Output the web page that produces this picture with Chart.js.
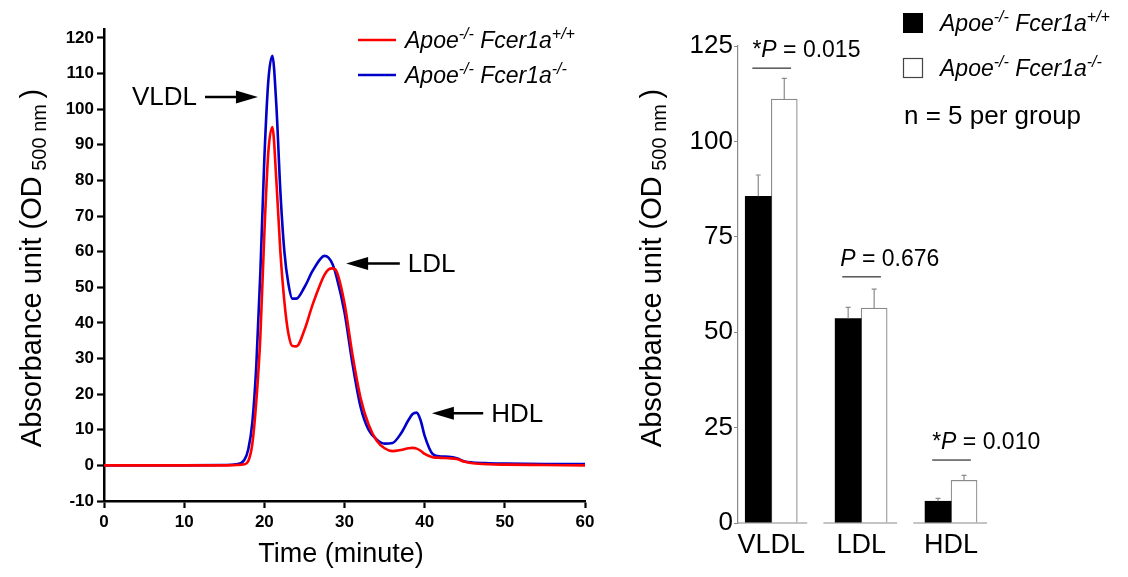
<!DOCTYPE html>
<html>
<head>
<meta charset="utf-8">
<script src="https://cdn.jsdelivr.net/npm/chart.js@4/dist/chart.umd.min.js"></script>
<style>
  html, body { margin: 0; padding: 0; background: #fff; }
  #wrap { position: relative; width: 1128px; height: 577px; }
  #lineChart { position: absolute; left: 0; top: 0; }
  #barChart { position: absolute; left: 600px; top: 0; }
</style>
</head>
<body>
<div id="wrap">
  <canvas id="lineChart" width="600" height="577"></canvas>
  <canvas id="barChart" width="528" height="577"></canvas>
</div>
<script>
// ---------------- DATA: FPLC PROFILE ----------------
const timeMin = [0, 5, 10, 15, 16.5, 17.5, 18, 18.5, 19, 19.5, 20, 20.5, 21, 21.5, 22, 22.5, 23, 23.5, 24, 25, 26, 27, 27.5, 28, 28.5, 29, 30, 31, 32, 33, 34, 35, 36, 37, 38, 38.5, 39, 39.5, 40, 41, 42, 43, 44, 45, 46, 48, 50, 55, 60];
const wildType = [0, 0, 0, 0, 0.1, 0.3, 1.2, 6, 18, 36, 65, 88, 95, 80, 60, 46, 37, 33.5, 33.4, 38, 45, 51, 53.5, 55, 55.3, 54.5, 45.5, 31, 19, 11.5, 7, 4.8, 4, 4.3, 4.8, 4.9, 4.7, 4.1, 3.2, 2.3, 2.1, 2, 1.8, 1, 0.6, 0.3, 0.2, 0.1, 0];
const knockOut = [0, 0, 0, 0.1, 0.3, 1.5, 4.5, 12, 28, 54, 86, 108, 115, 101, 77, 60, 51, 46.8, 46.8, 50, 54.5, 58, 58.8, 58.3, 56.5, 53, 43, 28.5, 16.5, 10, 7.3, 6.1, 6.3, 8.8, 12.8, 14.4, 14.8, 12.6, 8.3, 3.2, 2.5, 2.4, 2, 1.1, 0.8, 0.6, 0.5, 0.4, 0.4];
const yTicksLeft = [-10, 0, 10, 20, 30, 40, 50, 60, 70, 80, 90, 100, 110, 120];

// peak labels: [text, arrow tail time, arrow tip time, level, side]
const peakLabels = [
    ["VLDL", 12.6, 19.2, 103.4, "left"],
    ["LDL", 36.9, 30.2, 56.7, "right"],
    ["HDL", 47.3, 40.9, 14.6, "right"]
];

// ---------------- DATA: BAR SUMMARY ----------------
const lipoClasses = ["VLDL", "LDL", "HDL"];
const wildTypeMean = [85.6, 53.6, 5.7];
const wildTypeErr = [5.6, 2.9, 0.75];
const knockOutMean = [111.1, 56.3, 11.2];
const knockOutErr = [5.4, 5.0, 1.3];
const pLabels = ["*P = 0.015", "P = 0.676", "*P = 0.010"];
const pLevels = [119.2, 64.5, 16.5];
const yTicksRight = [0, 25, 50, 75, 100, 125];

const FONT = "'Liberation Sans', Arial, sans-serif";
const RED = "#ff0000";
const BLUE = "#0000c8";

// ---------------- TEXT HELPERS ----------------
// parts: [text, size, italic, dy]
function richWidth(ctx, parts) {
    let w = 0;
    parts.forEach(p => {
        ctx.font = (p[2] ? "italic " : "") + p[1] + "px " + FONT;
        w += ctx.measureText(p[0]).width;
    });
    return w;
}

function drawRich(ctx, x, y, parts) {
    let cx = x;
    ctx.textBaseline = "alphabetic";
    ctx.textAlign = "left";
    parts.forEach(p => {
        ctx.font = (p[2] ? "italic " : "") + p[1] + "px " + FONT;
        ctx.fillText(p[0], cx, y + (p[3] || 0));
        cx += ctx.measureText(p[0]).width;
    });
}

function genotype(sup) {
    return [["Apoe", 23, true, 0], ["-/-", 16, true, -9], [" Fcer1a", 23, true, 0], [sup, 16, true, -9]];
}

function yTitleParts() {
    return [["Absorbance unit (OD", 29, false, 0], [" 500 nm", 20, false, 5], [" ", 20, false, 0], [")", 29, false, 0]];
}

function drawYTitle(ctx, cx, cy) {
    const parts = yTitleParts();
    const w = richWidth(ctx, parts);
    ctx.save();
    ctx.translate(cx, cy);
    ctx.rotate(-Math.PI / 2);
    ctx.fillStyle = "#000";
    drawRich(ctx, -w / 2, 10, parts);
    ctx.restore();
}

function drawArrow(ctx, x1, x2, y) {
    const dir = x2 > x1 ? 1 : -1;
    ctx.save();
    ctx.strokeStyle = "#000";
    ctx.fillStyle = "#000";
    ctx.lineWidth = 2.5;
    ctx.beginPath();
    ctx.moveTo(x1, y);
    ctx.lineTo(x2 - dir * 18, y);
    ctx.stroke();
    ctx.beginPath();
    ctx.moveTo(x2, y);
    ctx.lineTo(x2 - dir * 22, y - 6.5);
    ctx.lineTo(x2 - dir * 22, y + 6.5);
    ctx.closePath();
    ctx.fill();
    ctx.restore();
}

// -------------------- LEFT: LINE CHART --------------------
const lineDecor = {
    id: "lineDecor",
    afterDraw(chart) {
        const ctx = chart.ctx;
        const xs = chart.scales.x;
        const ys = chart.scales.y;

        // peak arrows
        peakLabels.forEach(([label, tail, tip, level, side]) => {
            const px1 = xs.getPixelForValue(tail);
            const px2 = xs.getPixelForValue(tip);
            const py = ys.getPixelForValue(level);
            drawArrow(ctx, px1, px2, py);
            ctx.fillStyle = "#000";
            ctx.font = "26px " + FONT;
            ctx.textBaseline = "middle";
            ctx.textAlign = side === "left" ? "right" : "left";
            ctx.fillText(label, side === "left" ? px1 - 8 : px1 + 8, py + 1);
        });

        // legend
        const rows = [[RED, "+/+", 40], [BLUE, "-/-", 75]];
        rows.forEach(([color, sup, y]) => {
            ctx.strokeStyle = color;
            ctx.lineWidth = 2.5;
            ctx.beginPath();
            ctx.moveTo(358, y);
            ctx.lineTo(396, y);
            ctx.stroke();
            ctx.fillStyle = "#000";
            drawRich(ctx, 405, y + 8, genotype(sup));
        });

        // axis titles
        ctx.fillStyle = "#000";
        ctx.font = "27px " + FONT;
        ctx.textAlign = "center";
        ctx.textBaseline = "alphabetic";
        ctx.fillText("Time (minute)", 341, 562);
        drawYTitle(ctx, 31, 268);
    }
};

new Chart("lineChart", {
    type: "line",
    data: {
        datasets: [
            {
                label: "Apoe-/- Fcer1a+/+",
                data: timeMin.map((t, i) => ({ x: t, y: wildType[i] })),
                borderColor: RED,
                borderWidth: 2.6,
                pointRadius: 0,
                cubicInterpolationMode: "monotone"
            },
            {
                label: "Apoe-/- Fcer1a-/-",
                data: timeMin.map((t, i) => ({ x: t, y: knockOut[i] })),
                borderColor: BLUE,
                borderWidth: 2.6,
                pointRadius: 0,
                cubicInterpolationMode: "monotone"
            }
        ]
    },
    options: {
        responsive: false,
        animation: false,
        layout: { padding: { top: 29, right: 15, left: 0, bottom: 0 } },
        plugins: { legend: { display: false }, tooltip: { enabled: false } },
        scales: {
            x: {
                type: "linear",
                min: 0,
                max: 60,
                afterFit: s => { s.height = 76; },
                ticks: {
                    stepSize: 10,
                    color: "#000",
                    padding: 4,
                    font: { family: FONT, size: 17, weight: "bold" }
                },
                grid: { drawOnChartArea: false, tickLength: 7, tickWidth: 2.2, color: "#000" },
                border: { display: true, color: "#000", width: 2.5 }
            },
            y: {
                type: "linear",
                min: -10,
                max: 122.5,
                afterFit: s => { s.width = 104; },
                afterBuildTicks: s => { s.ticks = yTicksLeft.map(v => ({ value: v })); },
                ticks: {
                    color: "#000",
                    padding: 3,
                    font: { family: FONT, size: 17, weight: "bold" }
                },
                grid: { drawOnChartArea: false, tickLength: 7, tickWidth: 2.2, color: "#000" },
                border: { display: true, color: "#000", width: 2.5 }
            }
        }
    },
    plugins: [lineDecor]
});

// -------------------- RIGHT: BAR CHART --------------------
const barDecor = {
    id: "barDecor",
    afterDatasetsDraw(chart) {
        const ctx = chart.ctx;
        const xs = chart.scales.x;
        const ys = chart.scales.y;
        const errs = [wildTypeErr, knockOutErr];
        const means = [wildTypeMean, knockOutMean];

        // error bars
        chart.data.datasets.forEach((ds, di) => {
            const meta = chart.getDatasetMeta(di);
            meta.data.forEach((bar, i) => {
                const top = ys.getPixelForValue(means[di][i] + errs[di][i]);
                ctx.save();
                ctx.strokeStyle = "#8a8a8a";
                ctx.lineWidth = 1.2;
                ctx.beginPath();
                ctx.moveTo(bar.x, bar.y);
                ctx.lineTo(bar.x, top);
                ctx.moveTo(bar.x - 2.5, top);
                ctx.lineTo(bar.x + 2.5, top);
                ctx.stroke();
                ctx.restore();
            });
        });

        // broken baseline under each group
        const base = ys.getPixelForValue(0);
        ctx.save();
        ctx.strokeStyle = "#8a8a8a";
        ctx.lineWidth = 1.2;
        lipoClasses.forEach((c, i) => {
            const a = Math.max(xs.getPixelForValue(i - 0.42), chart.chartArea.left);
            const b = xs.getPixelForValue(i + 0.40);
            ctx.beginPath();
            ctx.moveTo(a, base);
            ctx.lineTo(b, base);
            ctx.stroke();
        });
        ctx.restore();

        // P values
        pLabels.forEach((txt, i) => {
            const y = ys.getPixelForValue(pLevels[i]);
            const x1 = xs.getPixelForValue(i - 0.21);
            const x2 = xs.getPixelForValue(i + 0.22);
            ctx.save();
            ctx.strokeStyle = "#000";
            ctx.lineWidth = 1;
            ctx.beginPath();
            ctx.moveTo(x1, y);
            ctx.lineTo(x2, y);
            ctx.stroke();
            ctx.fillStyle = "#000";
            const star = txt.startsWith("*");
            const rest = txt.replace(/^\*?P/, "");
            const parts = [];
            if (star) parts.push(["*", 23, false, 0]);
            parts.push(["P", 23, true, 0]);
            parts.push([rest, 23, false, 0]);
            drawRich(ctx, x1 - (star ? 0 : 2), y - 11, parts);
            ctx.restore();
        });

        // legend
        ctx.save();
        ctx.fillStyle = "#000";
        ctx.fillRect(303, 13, 20, 20);
        ctx.strokeStyle = "#444";
        ctx.lineWidth = 1.2;
        ctx.strokeRect(303.5, 58.5, 19, 19);
        drawRich(ctx, 340, 31, genotype("+/+"));
        drawRich(ctx, 340, 76, genotype("-/-"));
        ctx.font = "26px " + FONT;
        ctx.fillText("n = 5 per group", 304, 124);
        ctx.restore();

        drawYTitle(ctx, 51, 268);
    }
};

new Chart("barChart", {
    type: "bar",
    data: {
        datasets: [
            {
                label: "Apoe-/- Fcer1a+/+",
                data: wildTypeMean.map((v, i) => ({ x: i, y: v })),
                backgroundColor: "#000",
                borderColor: "#000",
                borderWidth: 0,
                barThickness: 26
            },
            {
                label: "Apoe-/- Fcer1a-/-",
                data: knockOutMean.map((v, i) => ({ x: i, y: v })),
                backgroundColor: "#fff",
                borderColor: "#8a8a8a",
                borderWidth: 1.2,
                barThickness: 26
            }
        ]
    },
    options: {
        responsive: false,
        animation: false,
        layout: { padding: { top: 46, right: 132, left: 0, bottom: 0 } },
        plugins: { legend: { display: false }, tooltip: { enabled: false } },
        scales: {
            x: {
                type: "linear",
                offset: false,
                min: -0.37,
                max: 2.5,
                afterFit: s => { s.height = 54; },
                afterBuildTicks: s => { s.ticks = lipoClasses.map((c, i) => ({ value: i })); },
                ticks: {
                    color: "#000",
                    padding: 6,
                    font: { family: FONT, size: 27 },
                    callback: v => lipoClasses[v]
                },
                grid: { display: false, drawTicks: false },
                border: { display: false }
            },
            y: {
                min: 0,
                max: 125,
                afterFit: s => { s.width = 138; },
                afterBuildTicks: s => { s.ticks = yTicksRight.map(v => ({ value: v })); },
                ticks: {
                    color: "#000",
                    padding: 1,
                    font: { family: FONT, size: 26 }
                },
                grid: { drawOnChartArea: false, tickLength: 4, color: "#8a8a8a" },
                border: { display: true, color: "#8a8a8a", width: 1.2 }
            }
        }
    },
    plugins: [barDecor]
});
</script>
</body>
</html>
